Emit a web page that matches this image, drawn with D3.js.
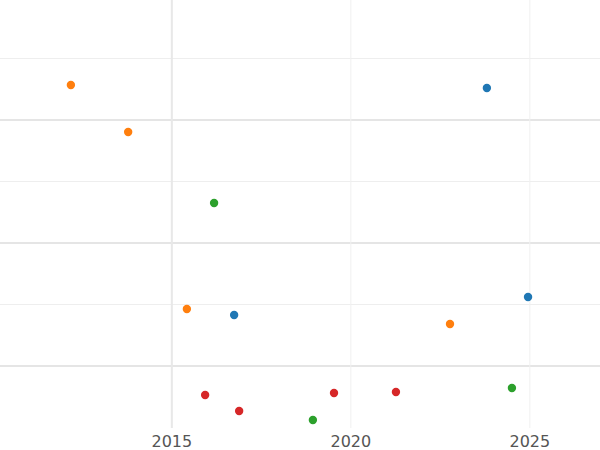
<!DOCTYPE html>
<html>
<head>
  <script src="https://d3js.org/d3.v7.min.js"></script>
  <style>
    body { margin: 0; background: #fff; }
    text { font-family: "DejaVu Sans", sans-serif; }
  </style>
</head>
<body>
<script>
  // series data
  var orangeX = [2012.18, 2013.78, 2015.42, 2022.77];
  var orangeY = [2.285, 1.902, 0.463, 0.341];
  var blueX = [2023.80, 2024.95, 2016.74];
  var blueY = [2.260, 0.561, 0.415];
  var greenX = [2016.18, 2024.50, 2018.94];
  var greenY = [1.325, -0.179, -0.439];
  var redX = [2015.93, 2016.88, 2019.53, 2021.26];
  var redY = [-0.236, -0.366, -0.220, -0.211];
  var xTicks = [2015, 2020, 2025];
  var yMajor = [0, 1, 2];
  var yMinor = [0.5, 1.5, 2.5];

  var series = [
    { xs: blueX, ys: blueY, color: "#1f77b4" },
    { xs: orangeX, ys: orangeY, color: "#ff7f0e" },
    { xs: greenX, ys: greenY, color: "#2ca02c" },
    { xs: redX, ys: redY, color: "#d62728" }
  ];

  var width = 600, height = 450, plotBottom = 428;
  var x = d3.scaleLinear().domain([2010.2, 2026.96]).range([0, width]);
  var y = d3.scaleLinear().domain([0, 1]).range([366, 243]);

  var svg = d3.select("body").append("svg")
    .attr("width", width).attr("height", height);

  // grid
  svg.selectAll(".ymin").data(yMinor).enter().append("line")
    .attr("x1", 0).attr("x2", width)
    .attr("y1", d => y(d)).attr("y2", d => y(d))
    .attr("stroke", "#eeeeee").attr("stroke-width", 1);
  svg.selectAll(".ymaj").data(yMajor).enter().append("line")
    .attr("x1", 0).attr("x2", width)
    .attr("y1", d => y(d)).attr("y2", d => y(d))
    .attr("stroke", "#e5e5e5").attr("stroke-width", 2);
  svg.selectAll(".xmaj").data(xTicks).enter().append("line")
    .attr("x1", d => x(d)).attr("x2", d => x(d))
    .attr("y1", 0).attr("y2", plotBottom)
    .attr("stroke", (d, i) => i === 0 ? "#e8e8e8" : "#f0f0f0")
    .attr("stroke-width", (d, i) => i === 0 ? 2 : 1);

  // x labels
  svg.selectAll(".xl").data(xTicks).enter().append("text")
    .attr("x", d => x(d)).attr("y", 447)
    .attr("text-anchor", "middle")
    .attr("font-size", 16).attr("fill", "#555")
    .text(d => d);

  // points
  series.forEach(function (s) {
    svg.append("g").selectAll("circle")
      .data(s.xs.map((v, i) => [v, s.ys[i]]))
      .enter().append("circle")
      .attr("cx", d => x(d[0])).attr("cy", d => y(d[1]))
      .attr("r", 4.2).attr("fill", s.color);
  });
</script>
</body>
</html>
